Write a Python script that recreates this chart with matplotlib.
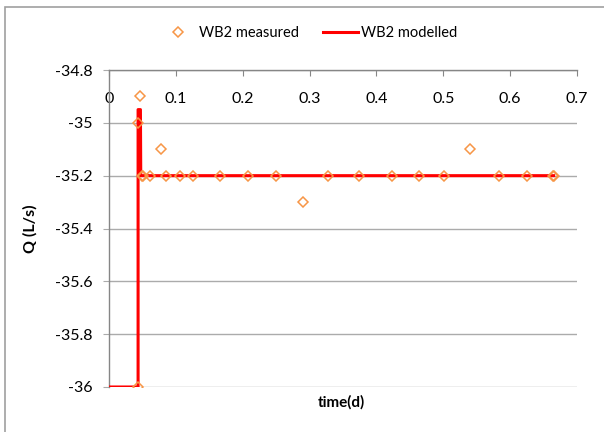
import matplotlib
matplotlib.use('Agg')
import matplotlib.pyplot as plt
from matplotlib.patches import Rectangle

# measured discharge, WB2
t_meas = [0.043, 0.0438, 0.047, 0.049, 0.051, 0.062, 0.078, 0.086, 0.106, 0.125, 0.166,
          0.208, 0.25, 0.290, 0.328, 0.374, 0.424, 0.463, 0.501, 0.540, 0.583, 0.625,
          0.664, 0.666]
q_meas = [-36, -35.0, -34.9, -35.2, -35.2, -35.2, -35.1, -35.2, -35.2, -35.2, -35.2,
          -35.2, -35.2, -35.3, -35.2, -35.2, -35.2, -35.2, -35.2, -35.1, -35.2, -35.2,
          -35.2, -35.2]

# modelled discharge, WB2
t_mod = [0, 0.0435, 0.0435, 0.047, 0.0475, 0.665]
q_mod = [-36, -36, -34.95, -34.95, -35.2, -35.2]

xticks = [0, 0.1, 0.2, 0.3, 0.4, 0.5, 0.6, 0.7]
yticks = [-36, -35.8, -35.6, -35.4, -35.2, -35, -34.8]

plt.rcParams['font.family'] = ['Lato', 'DejaVu Sans']

fig = plt.figure(figsize=(6.04, 4.32), dpi=100)
ax = fig.add_axes([109/604, 1-387/432, 468/604, 317/432])

ax.plot(t_meas, q_meas, linestyle='none', marker='D', markersize=5.5,
        markerfacecolor='none', markeredgecolor='#F79646', markeredgewidth=1.1,
        label='WB2 measured', zorder=4)
ax.plot(t_mod, q_mod, color='#FF0000', linewidth=2.2, label='WB2 modelled', zorder=3)

ax.set_xlim(0, 0.7)
ax.set_ylim(-36, -34.8)
ax.set_xticks(xticks)
ax.set_xticklabels(['0', '0.1', '0.2', '0.3', '0.4', '0.5', '0.6', '0.7'])
ax.set_yticks(yticks)
ax.set_yticklabels(['-36', '-35.8', '-35.6', '-35.4', '-35.2', '-35', '-34.8'])

ax.yaxis.grid(True, color='#ABABAB', linewidth=1.0)
ax.set_axisbelow(True)
for s in ['right', 'bottom']:
    ax.spines[s].set_visible(False)
for s in ['left', 'top']:
    ax.spines[s].set_color('#868686')
    ax.spines[s].set_linewidth(1.0)

ax.xaxis.set_ticks_position('top')
ax.tick_params(axis='x', direction='in', length=4, color='#868686',
               labeltop=True, labelbottom=False, pad=-26, labelsize=11.5)
ax.tick_params(axis='y', direction='out', length=4, color='#ABABAB',
               pad=8, labelsize=11.5)

ax.set_ylabel('Q (L/s)', fontweight='bold', fontsize=11.5)
ax.yaxis.set_label_coords(-0.152, 0.5)
fig.text(341/604, 1-402/432, 'time(d)', fontweight='bold', fontsize=11,
         ha='center', va='center')

fig.legend(loc='center', bbox_to_anchor=(309/604, 1-33/432), ncol=2, frameon=False,
           fontsize=10.5, handlelength=2.4, columnspacing=1.6, handletextpad=0.25,
           markerscale=0.9)

fig.patches.append(Rectangle((5/604, -0.1), 1.2, 1.1 - 7/432,
                             transform=fig.transFigure, fill=False,
                             edgecolor='#A0A0A0', linewidth=1.2))

fig.savefig('out.png', dpi=100)
